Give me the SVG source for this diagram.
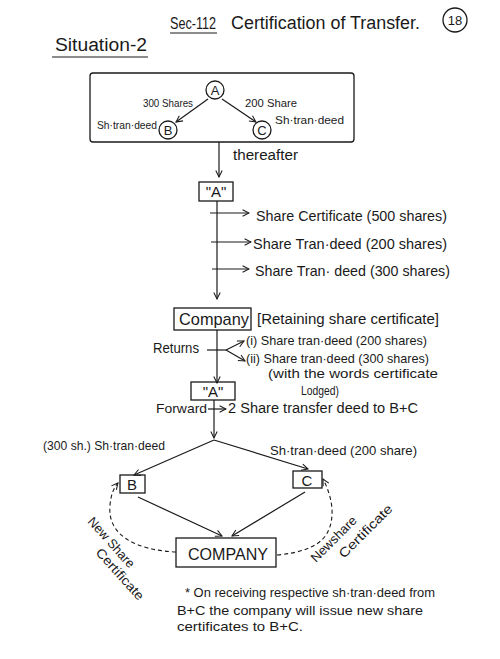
<svg xmlns="http://www.w3.org/2000/svg" width="500" height="659" viewBox="0 0 500 659">
<defs>
<marker id="ah" viewBox="0 0 10 10" refX="9" refY="5" markerWidth="8" markerHeight="8" orient="auto" markerUnits="userSpaceOnUse">
<path d="M1,1 L9,5 L1,9" fill="none" stroke="#1a1a1a" stroke-width="1.3"/>
</marker>
<style>
text{font-family:"Liberation Sans","DejaVu Sans",sans-serif;fill:#1a1a1a}
.ln{fill:none;stroke:#1a1a1a;stroke-width:1.2}
.bx{fill:none;stroke:#1a1a1a;stroke-width:1.3}
.ds{fill:none;stroke:#1a1a1a;stroke-width:1.1;stroke-dasharray:4 3}
.arr{marker-end:url(#ah)}
.s11{font-size:11px}.s13{font-size:13px}.s14{font-size:14px}.s15{font-size:15px}.s17{font-size:17px}.s18{font-size:18px}
.m{text-anchor:middle}
</style>
</defs>
<rect width="500" height="659" fill="#ffffff"/>

<g id="title">
<text class="s17" x="170" y="29" textLength="46" lengthAdjust="spacingAndGlyphs">Sec-112</text>
<line class="ln" x1="170" y1="33" x2="217" y2="33"/>
<text class="s18" x="231" y="29" textLength="189" lengthAdjust="spacingAndGlyphs">Certification of Transfer.</text>
<circle class="bx" cx="455" cy="20" r="12"/>
<text class="s13 m" x="455" y="25">18</text>
<text class="s18" x="55" y="51" textLength="92" lengthAdjust="spacingAndGlyphs">Situation-2</text>
<line class="ln" x1="52" y1="57" x2="148" y2="57"/>
</g>

<g id="box-situation">
<rect class="bx" x="90" y="73" width="264" height="69" rx="3"/>
</g>
<g id="node-A-top">
<circle class="bx" cx="215" cy="90" r="9"/>
<text class="s13 m" x="215" y="95">A</text>
</g>
<g id="node-B-top">
<circle class="bx" cx="168" cy="130" r="9"/>
<text class="s13 m" x="168" y="135">B</text>
</g>
<g id="node-C-top">
<circle class="bx" cx="262" cy="130" r="9"/>
<text class="s13 m" x="262" y="135">C</text>
</g>

<g id="node-A1">
<rect class="bx" x="199" y="182" width="34" height="19"/>
<text class="s15 m" x="216" y="197">"A"</text>
</g>
<g id="node-company1">
<rect class="bx" x="174" y="308" width="77" height="22"/>
<text class="s17" x="179" y="325" textLength="70" lengthAdjust="spacingAndGlyphs">Company</text>
</g>
<g id="node-A2">
<rect class="bx" x="191" y="382" width="44" height="18"/>
<text class="s15 m" x="213" y="397">"A"</text>
</g>
<g id="node-B">
<rect class="bx" x="120" y="475" width="25" height="18"/>
<text class="s15 m" x="132" y="490">B</text>
</g>
<g id="node-C">
<rect class="bx" x="293" y="471" width="29" height="17"/>
<text class="s15 m" x="307" y="486">C</text>
</g>
<g id="node-company2">
<rect class="bx" x="176" y="538" width="100" height="29"/>
<text class="s17" x="188" y="560" textLength="80" lengthAdjust="spacingAndGlyphs">COMPANY</text>
</g>

<g id="connectors">
<line class="ln arr" x1="208" y1="99" x2="176" y2="122"/>
<line class="ln arr" x1="222" y1="99" x2="256" y2="122"/>
<line class="ln arr" x1="219" y1="142" x2="219" y2="177"/>
<line class="ln arr" x1="217" y1="201" x2="217" y2="299"/>
<line class="ln arr" x1="210" y1="213" x2="249" y2="213"/>
<line class="ln arr" x1="211" y1="242" x2="251" y2="242"/>
<line class="ln arr" x1="212" y1="269" x2="249" y2="269"/>
<line class="ln arr" x1="217" y1="330" x2="217" y2="383"/>
<line class="ln" x1="207" y1="350" x2="226" y2="350"/>
<line class="ln arr" x1="226" y1="350" x2="244" y2="341"/>
<line class="ln arr" x1="226" y1="350" x2="245" y2="361"/>
<line class="ln arr" x1="214" y1="400" x2="214" y2="438"/>
<line class="ln arr" x1="208" y1="409" x2="226" y2="409"/>
<line class="ln arr" x1="214" y1="440" x2="134" y2="475"/>
<line class="ln arr" x1="214" y1="440" x2="308" y2="469"/>
<line class="ln arr" x1="138" y1="497" x2="222" y2="536"/>
<line class="ln arr" x1="305" y1="492" x2="232" y2="536"/>
<path class="ds arr" d="M176,552 C135,550 107,535 110,505 C111,495 113,489 118,483"/>
<path class="ds arr" d="M277,555 C300,553 318,547 326,535 C335,521 334,500 323,479"/>
</g>

<g id="labels">
<text class="s11" x="143" y="107" textLength="50" lengthAdjust="spacingAndGlyphs">300 Shares</text>
<text class="s11" x="245" y="107" textLength="52" lengthAdjust="spacingAndGlyphs">200 Share</text>
<text class="s11" x="97" y="129" textLength="60" lengthAdjust="spacingAndGlyphs">Sh·tran·deed</text>
<text class="s11" x="275" y="124" textLength="69" lengthAdjust="spacingAndGlyphs">Sh·tran·deed</text>
<text class="s14" x="233" y="160" textLength="65" lengthAdjust="spacingAndGlyphs">thereafter</text>
<text class="s15" x="256" y="221" textLength="191" lengthAdjust="spacingAndGlyphs">Share Certificate (500 shares)</text>
<text class="s15" x="253" y="249" textLength="194" lengthAdjust="spacingAndGlyphs">Share Tran·deed (200 shares)</text>
<text class="s15" x="255" y="276" textLength="195" lengthAdjust="spacingAndGlyphs">Share Tran· deed (300 shares)</text>
<text class="s14" x="257" y="324" textLength="182" lengthAdjust="spacingAndGlyphs">[Retaining share certificate]</text>
<text class="s14" x="153" y="353" textLength="46" lengthAdjust="spacingAndGlyphs">Returns</text>
<text class="s13" x="246" y="345" textLength="181" lengthAdjust="spacingAndGlyphs">(i) Share tran·deed (200 shares)</text>
<text class="s13" x="246" y="363" textLength="183" lengthAdjust="spacingAndGlyphs">(ii) Share tran·deed (300 shares)</text>
<text class="s13" x="268" y="378" textLength="170" lengthAdjust="spacingAndGlyphs">(with the words certificate</text>
<text class="s13" x="301" y="395" textLength="38" lengthAdjust="spacingAndGlyphs">Lodged)</text>
<text class="s13" x="156" y="413" textLength="51" lengthAdjust="spacingAndGlyphs">Forward</text>
<text class="s14" x="228" y="413" textLength="190" lengthAdjust="spacingAndGlyphs">2 Share transfer deed to B+C</text>
<text class="s13" x="43" y="450" textLength="122" lengthAdjust="spacingAndGlyphs">(300 sh.) Sh·tran·deed</text>
<text class="s13" x="270" y="455" textLength="147" lengthAdjust="spacingAndGlyphs">Sh·tran·deed (200 share)</text>
<text class="s13" transform="translate(87,522) rotate(48)" textLength="63" lengthAdjust="spacingAndGlyphs">New Share</text>
<text class="s13" transform="translate(95,553) rotate(48)" textLength="65" lengthAdjust="spacingAndGlyphs">Certificate</text>
<text class="s13" transform="translate(316,563) rotate(-45)" textLength="59" lengthAdjust="spacingAndGlyphs">Newshare</text>
<text class="s13" transform="translate(344,559) rotate(-45)" textLength="70" lengthAdjust="spacingAndGlyphs">Certificate</text>
</g>

<g id="note">
<text class="s13" x="185" y="597" textLength="250" lengthAdjust="spacingAndGlyphs">* On receiving respective sh·tran·deed from</text>
<text class="s13" x="177" y="615" textLength="246" lengthAdjust="spacingAndGlyphs">B+C  the company will issue new share</text>
<text class="s13" x="177" y="631" textLength="126" lengthAdjust="spacingAndGlyphs">certificates to B+C.</text>
</g>
</svg>
